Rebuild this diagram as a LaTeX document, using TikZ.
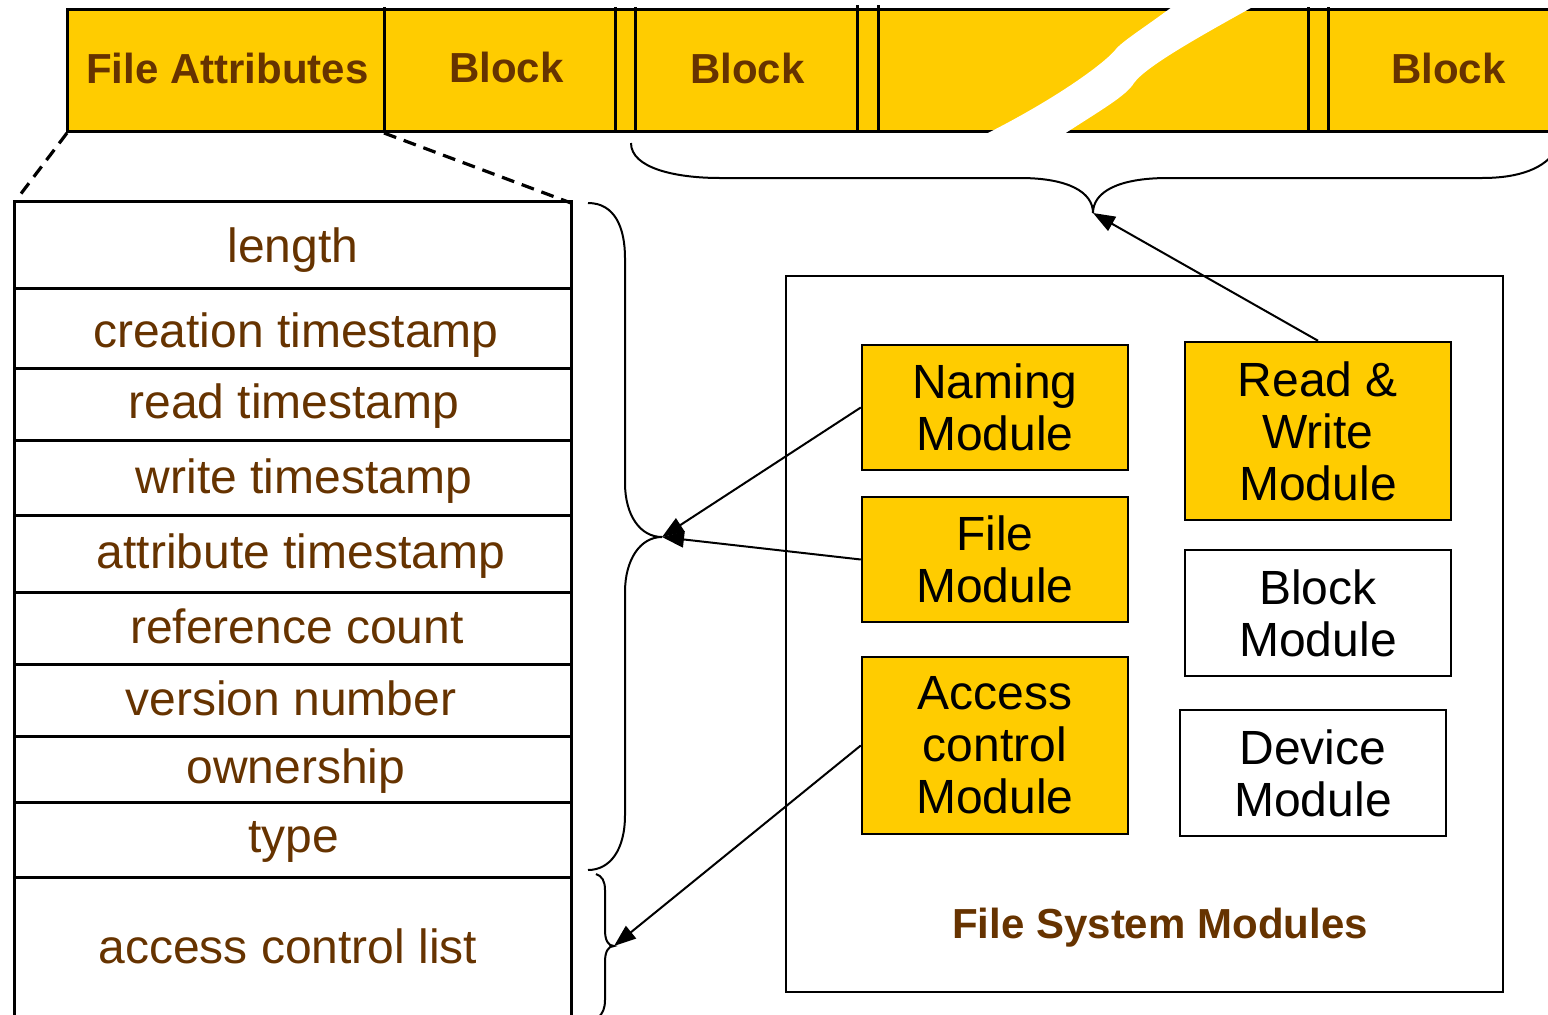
\documentclass[tikz,border=0pt]{standalone}
\usepackage{fontspec}
\setmainfont{Liberation Sans}
\usetikzlibrary{arrows.meta}
\definecolor{barfill}{HTML}{FFCC00}
\definecolor{txtbrown}{HTML}{663300}
\begin{document}
\begin{tikzpicture}[x=1pt,y=-1pt,
  modbox/.style={draw, line width=2.5pt, minimum width=266pt, inner sep=0pt,
    align=center, font=\fontsize{48}{52}\selectfont},
  yel/.style={fill=barfill},
  cell/.style={anchor=base, text=txtbrown, inner sep=0pt,
    font=\fontsize{48}{52}\selectfont},
  head/.style={anchor=base, text=txtbrown, inner sep=0pt,
    font=\bfseries\fontsize{42}{48}\selectfont},
  frame/.style={line width=3pt},
  brace/.style={line width=2pt},
  link/.style={line width=2pt, -{Triangle[length=22pt,width=16pt]}},
  zoomline/.style={line width=3.2pt, dash pattern=on 13pt off 8pt}]

\useasboundingbox (0,0) rectangle (1548,1015);
\clip (0,0) rectangle (1548,1015);

% ---------- file layout bar ----------
\fill[barfill] (67,9) rectangle (1560,131);
\draw[frame] (1560,9) -- (67,9) -- (67,131) -- (1560,131);
\foreach \x in {384,615,635,1308,1328}
  \draw[frame] (\x,7) -- (\x,133);
\foreach \x in {857,878}
  \draw[frame] (\x,5) -- (\x,133);
% break mark in the middle of the bar
\fill[white] (1176,4) .. controls (1144,28) and (1124,40) .. (1116,49)
  .. controls (1108,60) and (1062,96) .. (982,136)
  -- (1061,136) .. controls (1101,110) and (1126,96) .. (1134,83)
  .. controls (1146,66) and (1204,34) .. (1258,4) -- cycle;

\node[head] (fa) at (227.5,83) {File Attributes};
\node[head] (b1) at (506.5,82) {Block};
\node[head] (b2) at (747.5,83) {Block};
\node[head] (b3) at (1448.5,83) {Block};

\coordinate (fasw) at (67,133);
\coordinate (fase) at (384,133);

% ---------- attribute table ----------
\draw[frame] (14,1030) -- (14,201) -- (571,201) -- (571,1030);
\foreach \y in {288,368,440,515,592,664,736,802,877}
  \draw[frame] (14,\y) -- (571,\y);

\coordinate (tnw) at (20,195);
\coordinate (tne) at (571,203);
\draw[zoomline] (fasw) -- (tnw);
\draw[zoomline] (fase) -- (tne);

\node[cell] (a1) at (293,262) {length};
\node[cell] (a2) at (296,347) {creation timestamp};
\node[cell] (a3) at (294,418) {read timestamp};
\node[cell] (a4) at (304,493) {write timestamp};
\node[cell] (a5) at (301,568) {attribute timestamp};
\node[cell] (a6) at (297,643) {reference count};
\node[cell] (a7) at (291,715) {version number};
\node[cell] (a8) at (296,783) {ownership};
\node[cell] (a9) at (294,852) {type};
\node[cell] (a10) at (288,963) {access control list};

% ---------- braces ----------
\coordinate (bigtip) at (662,537);
\coordinate (smalltip) at (614,946);
\coordinate (toptip) at (1093,213);

\draw[brace] (588,203) .. controls (615,203) and (625,228) .. (625,258)
  -- (625,483) .. controls (625,515) and (640,537) .. (bigtip)
  .. controls (640,537) and (625,560) .. (625,592)
  -- (625,815) .. controls (625,850) and (610,870) .. (588,870);

\draw[brace] (596,874) .. controls (602,876) and (605,881) .. (605,890)
  -- (605,930) .. controls (605,940) and (608,946) .. (smalltip)
  .. controls (608,946) and (605,952) .. (605,962)
  -- (605,1000) .. controls (605,1008) and (603,1013) .. (598,1018);

\draw[brace] (631,143) .. controls (631,168) and (675,178) .. (720,178)
  -- (1020,178) .. controls (1068,178) and (1093,192) .. (toptip)
  .. controls (1093,192) and (1118,178) .. (1168,178)
  -- (1482,178) .. controls (1520,178) and (1545,168) .. (1556,150);

% ---------- file system modules ----------
\node[draw, line width=2.5pt, minimum width=717pt, minimum height=716pt,
  inner sep=0pt] (fsm) at (1144.5,634) {};
\node[head] (fsmlabel) at (1160,938) {File System Modules};

\node[modbox, yel, minimum height=125pt] (naming) at (995,407.5) {Naming\\Module};
\node[modbox, yel, minimum height=125pt] (file) at (995,559.5) {File\\Module};
\node[modbox, yel, minimum height=177pt] (access) at (995,745.5) {Access\\control\\Module};
\node[modbox, yel, minimum height=178pt] (rw) at (1318,431) {Read \&\\Write\\Module};
\node[modbox, fill=white, minimum height=126pt] (block) at (1318,613) {Block\\Module};
\node[modbox, fill=white, minimum height=126pt] (device) at (1313,773) {Device\\Module};

% ---------- connectors ----------
\draw[link] (naming.west) -- (bigtip);
\draw[link] (file.west) -- (bigtip);
\draw[link] (access.west) -- (smalltip);
\draw[link] (rw.north) -- (toptip);

\end{tikzpicture}
\end{document}
